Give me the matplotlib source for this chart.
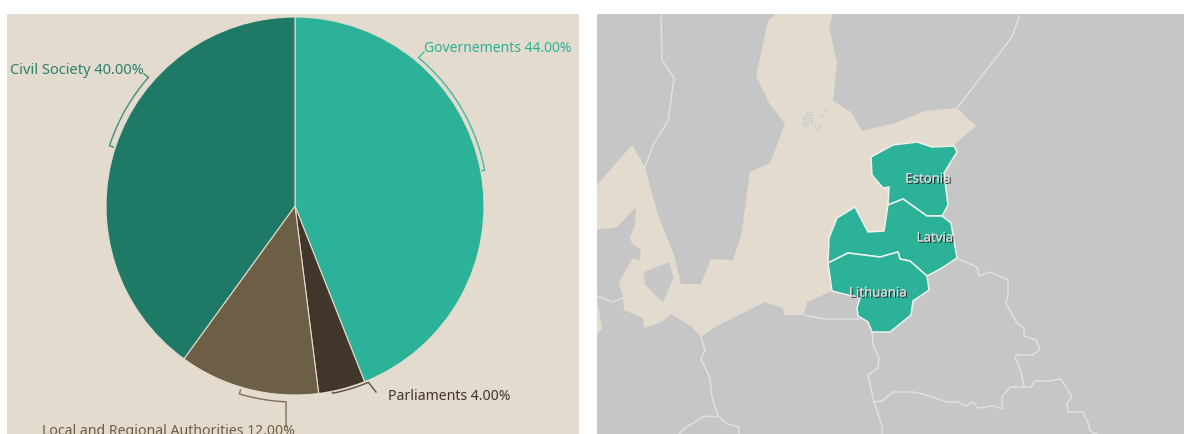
# -*- coding: utf-8 -*-
# Pie of partner types next to a map of the Baltic states
import numpy as np
import matplotlib
matplotlib.use("Agg")
import matplotlib.pyplot as plt
import matplotlib.patheffects as pe
from matplotlib.patches import Polygon, Rectangle

# Pie data
categories = ["Governements", "Parliaments", "Local and Regional Authorities", "Civil Society"]
shares = [44.0, 4.0, 12.0, 40.0]
slice_colors = ["#2CB298", "#40362A", "#6D5F45", "#1E7967"]
label_colors = ["#2CB298", "#40362A", "#6D5F45", "#2A7F6F"]

# Map outlines, in image pixels
sea = [(775, 14), (768, 21), (756, 76), (769, 103), (785, 124), (770, 163), (750, 172), (744, 215),
       (742, 232), (733, 260), (711, 259), (701, 284), (681, 284), (674, 255), (658, 215), (645, 167),
       (632, 145), (597, 185), (597, 230), (617, 227), (636, 207), (635, 225), (630, 237), (632, 244),
       (641, 250), (639, 261), (633, 258), (619, 282), (623, 298), (624, 310), (643, 318), (644, 328),
       (662, 322), (671, 314), (692, 327), (701, 337), (715, 327), (765, 302), (783, 308), (784, 315),
       (804, 315), (807, 302), (832, 291), (860, 280), (930, 200), (954, 145), (976, 126), (957, 108),
       (925, 111), (895, 123), (862, 131), (851, 112), (833, 101), (837, 62), (829, 27), (833, 14)]
sea_sliver = [(597, 298), (602, 328), (597, 335)]
sea_island = [(643, 272), (669, 262), (674, 277), (663, 303), (645, 285)]
estonia = [(871, 157), (893, 145), (917, 142), (932, 147), (954, 146), (957, 152), (944, 173), (948, 205),
           (942, 216), (927, 216), (903, 199), (888, 205), (889, 187), (883, 188), (872, 175)]
latvia = [(888, 205), (903, 199), (927, 216), (942, 216), (951, 223), (957, 258), (942, 268), (927, 276),
          (910, 261), (900, 259), (898, 252), (880, 257), (848, 253), (828, 263), (829, 238), (837, 218),
          (855, 207), (868, 232), (884, 231)]
lithuania = [(828, 263), (848, 253), (880, 257), (898, 252), (900, 259), (910, 261), (927, 276), (929, 290),
             (913, 301), (911, 315), (890, 332), (872, 332), (868, 322), (858, 316), (857, 308), (860, 298),
             (832, 291)]
borders = [
    [(661, 14), (662, 60), (674, 78), (668, 121), (653, 145), (645, 167)],
    [(1018, 14), (1019, 17), (1012, 37), (957, 108)],
    [(958, 259), (977, 267), (979, 276), (990, 272), (1008, 280), (1008, 295), (1006, 303), (1017, 323),
     (1024, 328), (1024, 336), (1036, 340), (1040, 349), (1033, 355), (1017, 355), (1015, 358), (1020, 368),
     (1024, 387)],
    [(882, 401), (893, 392), (913, 392), (923, 394), (947, 402), (958, 402), (966, 406), (973, 402),
     (978, 408), (994, 406), (1002, 409), (1002, 397), (1010, 387), (1031, 387), (1035, 381), (1050, 381),
     (1061, 379), (1072, 397), (1067, 403), (1068, 412), (1083, 412), (1089, 425), (1090, 431), (1099, 435)],
    [(701, 337), (705, 350), (701, 359), (710, 378), (712, 397), (718, 416), (727, 424), (739, 427), (739, 435)],
    [(718, 416), (715, 417), (704, 416), (695, 422), (685, 428), (678, 435)],
    [(804, 315), (825, 319), (858, 319)],
    [(872, 332), (873, 345), (879, 358), (878, 368), (868, 375), (874, 402), (882, 425), (882, 435)],
    [(874, 402), (882, 401)],
    [(623, 298), (613, 302), (597, 296)],
]
islands_x = [803, 805, 807, 809, 811, 806, 808, 813, 816, 819, 822, 826, 817, 811, 804, 810]
islands_y = [120, 117, 122, 116, 119, 125, 113, 123, 127, 125, 116, 110, 129, 114, 123, 121]
map_names = ["Estonia", "Latvia", "Lithuania"]
map_name_x = [928, 935, 878]
map_name_y = [179, 238, 293]

# Label brackets: angles clockwise from north, radius in pixels
arc_from = [39.8, 168.6, 196.5, -48.7]
arc_to = [79.3, 157.4, 182.6, -72.0]
arc_radius = [193, 191, 196, 195]
leader_x = [424, 376, 286, 144]
leader_y = [52, 392, 427, 74]
text_x = [424, 388, 295, 144]
text_y = [48, 396, 431, 69]
text_ha = ["left", "left", "right", "right"]
text_size = [10.05, 10.15, 10.15, 10.55]

W, H = 1184, 435
CX, CY, R = 295, 206, 189
BEIGE = "#E3DBCD"
GRAY = "#C6C6C6"
TEAL = "#2CB298"

plt.rcParams["font.family"] = ["Noto Sans", "DejaVu Sans"]


def on_circle(angle, radius):
    """Pixel position of an angle measured clockwise from north"""
    a = np.radians(angle)
    return CX + radius * np.sin(a), CY - radius * np.cos(a)


fig = plt.figure(figsize=(W / 100, H / 100), dpi=100)

# Background axes in image pixels, holds the panels, the map and the labels
ax = fig.add_axes([0, 0, 1, 1], zorder=0)
ax.set_xlim(0, W)
ax.set_ylim(H - 1, -1)  # one pixel lower, matches the reference edge
ax.axis("off")

ax.add_patch(Rectangle((7, 14), 572, H - 14, fc=BEIGE, ec="none"))

# Map
clip = Rectangle((597, 14), W - 597, H - 14, transform=ax.transData)
ax.add_patch(Rectangle((597, 14), W - 597, H - 14, fc=GRAY, ec="none"))
for outline in [sea, sea_sliver]:
    p = ax.add_patch(Polygon(outline, fc=BEIGE, ec="none"))
    p.set_clip_path(clip)
ax.add_patch(Polygon(sea_island, fc=GRAY, ec="#DADADA", lw=0.6))
for line in borders:
    xs, ys = zip(*line)
    ax.plot(xs, ys, color="#E2E2E2", lw=1.0, solid_joinstyle="round")
ax.scatter(islands_x, islands_y, s=4, color="#F4F4F4", edgecolors="#A8A8A8", linewidths=0.3)
for country in [estonia, latvia, lithuania]:
    ax.add_patch(Polygon(country, fc=TEAL, ec="#EEF2EC", lw=1.1, joinstyle="round"))
for name, x, y in zip(map_names, map_name_x, map_name_y):
    ax.text(x, y, name, ha="center", va="center", fontsize=9.5, color="#DADADA",
            path_effects=[pe.withSimplePatchShadow(offset=(0.9, -0.9), shadow_rgbFace="#2B2B2B", alpha=1.0),
                          pe.Normal()])

# Pie on its own axes
ax_pie = fig.add_axes([(CX - R) / W, 1 - (CY + 1 + R) / H, 2 * R / W, 2 * R / H], zorder=1)
ax_pie.pie(shares, colors=slice_colors, startangle=90, counterclock=False, radius=1,
           wedgeprops={"edgecolor": BEIGE, "linewidth": 0.8})
ax_pie.set_xlim(-1, 1)
ax_pie.set_ylim(-1, 1)

# Brackets and labels
for i, name in enumerate(categories):
    angles = np.linspace(arc_from[i], arc_to[i], 30)
    xs, ys = on_circle(angles, arc_radius[i])
    # small tick back to the pie at the far end, leader towards the text at the near end
    end_x, end_y = on_circle(arc_to[i], arc_radius[i] - 4)
    if i in (1, 2):
        # these two run the other way: tick at the start, leader after the end
        start_x, start_y = on_circle(arc_from[i], arc_radius[i] - 4)
        px = np.r_[start_x, xs, leader_x[i]]
        py = np.r_[start_y, ys, leader_y[i]]
    else:
        px = np.r_[leader_x[i], xs, end_x]
        py = np.r_[leader_y[i], ys, end_y]
    ax.plot(px, py, color=label_colors[i], lw=1.0, alpha=0.85, zorder=3, clip_on=False)
    ax.text(text_x[i], text_y[i], f"{name} {shares[i]:.2f}%", ha=text_ha[i], va="center",
            fontsize=text_size[i], color=label_colors[i], zorder=4)

fig.savefig("out.png", dpi=100, facecolor="white")
